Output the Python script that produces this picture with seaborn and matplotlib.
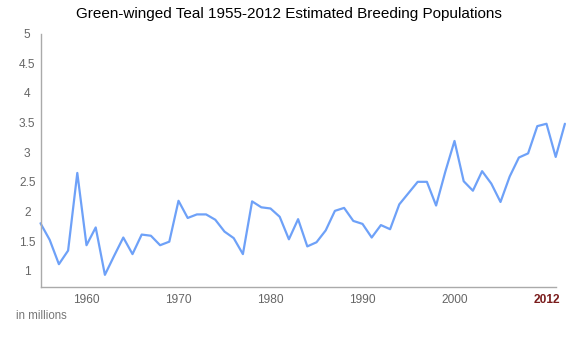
import matplotlib
matplotlib.use("Agg")
import matplotlib.pyplot as plt
import seaborn as sns
import pandas as pd

# Data (millions of birds)
years = list(range(1955, 2013))
population = [1.80, 1.52, 1.11, 1.34, 2.65, 1.43, 1.73, 0.93, 1.25, 1.56,
              1.28, 1.61, 1.59, 1.43, 1.49, 2.18, 1.89, 1.95, 1.95, 1.86,
              1.66, 1.55, 1.28, 2.17, 2.07, 2.05, 1.91, 1.53, 1.87, 1.41,
              1.48, 1.68, 2.01, 2.06, 1.84, 1.79, 1.56, 1.77, 1.70, 2.12,
              2.31, 2.50, 2.50, 2.10, 2.67, 3.19, 2.51, 2.35, 2.68, 2.47,
              2.16, 2.59, 2.91, 2.98, 3.44, 3.48, 2.92, 3.48]
x_tick_values = [1960, 1970, 1980, 1990, 2000, 2010]
x_tick_labels = ["1960", "1970", "1980", "1990", "2000", "2012"]
y_tick_values = [1, 1.5, 2, 2.5, 3, 3.5, 4, 4.5, 5]
y_tick_labels = ["1", "1.5", "2", "2.5", "3", "3.5", "4", "4.5", "5"]

df = pd.DataFrame({"year": years, "population": population})

sns.set_theme(style="white")
plt.rcParams["font.family"] = ["Liberation Sans", "DejaVu Sans"]

W, H = 577, 344
fig = plt.figure(figsize=(W / 100, H / 100), dpi=100)
left, right, top, bottom = 40.5, 556.0, 33.7, 286.7
ax = fig.add_axes([left / W, (H - bottom) / H, (right - left) / W, (bottom - top) / H])

sns.lineplot(data=df, x="year", y="population", ax=ax, color="#6ea1f8",
             linewidth=1.6, clip_on=False)

ax.set_xlim(1955, 1955 + (right - left) / 9.2)
ax.set_ylim(1 - (bottom - 270.7) / 59.25, 5)

ax.set_xticks(x_tick_values)
ax.set_xticklabels(x_tick_labels)
ax.set_yticks(y_tick_values)
ax.set_yticklabels(y_tick_labels)

for s in ["top", "right"]:
    ax.spines[s].set_visible(False)
for s in ["left", "bottom"]:
    ax.spines[s].set_color("#aaaaaa")
    ax.spines[s].set_linewidth(1.0)

ax.tick_params(axis="x", direction="in", length=3, width=1, color="#aaaaaa",
               labelsize=8.6, labelcolor="#666666", pad=5)
ax.tick_params(axis="y", direction="out", length=2.5, width=1, color="#aaaaaa",
               labelsize=8.6, labelcolor="#666666", pad=7)
for t in ax.get_yticklabels():
    t.set_horizontalalignment("center")
lab = ax.get_xticklabels()[-1]
lab.set_color("#7a1c1c")
lab.set_fontweight("bold")

ax.set_xlabel("")
ax.set_ylabel("")
ax.grid(False)

fig.text(289 / W, 1 - 14 / H, "Green-winged Teal 1955-2012 Estimated Breeding Populations",
         ha="center", va="center", fontsize=11.0, color="black")
fig.text(16 / W, 1 - 316 / H, "in millions", ha="left", va="center",
         fontsize=8.3, color="#777777")

fig.savefig("out.png", dpi=100)
